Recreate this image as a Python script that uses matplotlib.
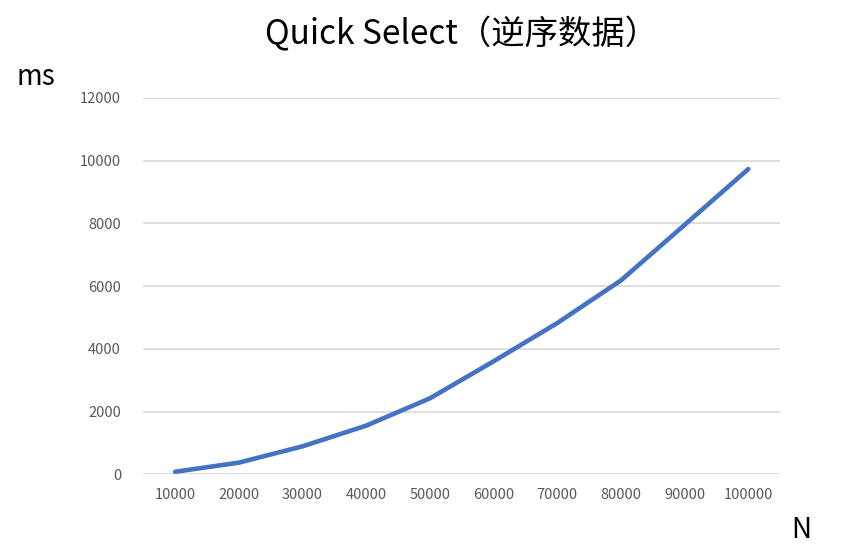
import matplotlib
matplotlib.use('Agg')
import matplotlib.pyplot as plt

plt.rcParams['font.family'] = ['Noto Sans CJK SC', 'DejaVu Sans']

sizes = ['10000', '20000', '30000', '40000', '50000',
         '60000', '70000', '80000', '90000', '100000']
times_ms = [80, 370, 890, 1550, 2420, 3600, 4820, 6180, 7950, 9730]
y_ticks = [0, 2000, 4000, 6000, 8000, 10000, 12000]

fig = plt.figure(figsize=(8.63, 5.56), dpi=100)
ax = fig.add_axes([0.166, 0.147, 0.738, 0.677])

x = list(range(len(sizes)))
ax.plot(x, times_ms, color='#4472C4', linewidth=3.3, solid_capstyle='round', zorder=3)

ax.set_xlim(-0.5, len(sizes) - 0.5)
ax.set_ylim(0, 12000)
ax.set_xticks(x)
ax.set_xticklabels(sizes)
ax.set_yticks(y_ticks)
ax.set_yticklabels([str(v) for v in y_ticks])
ax.tick_params(axis='both', length=0, labelsize=10.5, colors='#595959')
ax.tick_params(axis='x', pad=10)
ax.tick_params(axis='y', pad=16)

ax.grid(axis='y', color='#D9D9D9', linewidth=1.2)
ax.set_axisbelow(True)
for s in ax.spines.values():
    s.set_visible(False)

fig.text(0.535, 0.937, 'Quick Select（逆序数据）', ha='center', va='center',
         fontsize=24, color='#000000')
fig.text(0.041, 0.861, 'ms', ha='center', va='center', fontsize=20,
         color='#000000')
fig.text(0.929, 0.046, 'N', ha='center', va='center', fontsize=20,
         color='#000000')

fig.savefig('out.png', dpi=100)
